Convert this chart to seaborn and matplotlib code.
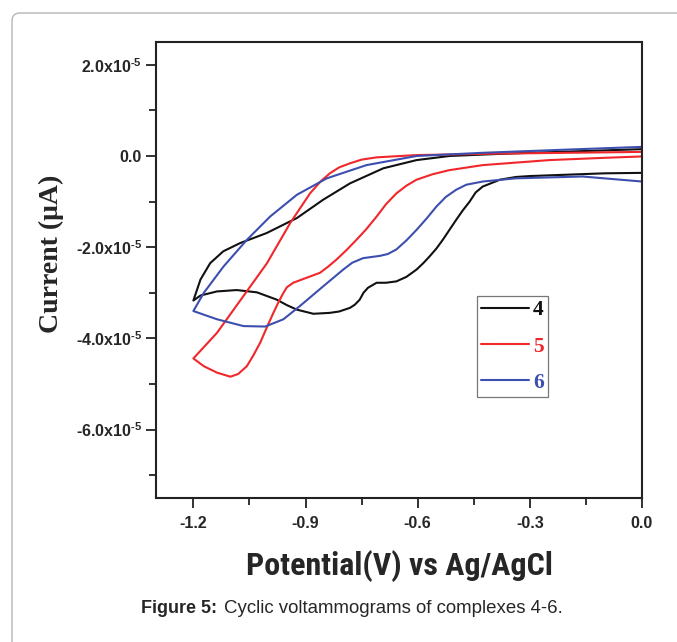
import matplotlib
matplotlib.use('Agg')
import matplotlib.pyplot as plt
import pandas as pd
import seaborn as sns
from matplotlib.lines import Line2D
from matplotlib.patches import FancyBboxPatch

# Cyclic voltammograms, current in units of 1e-5 A
# complex 4 (black)
e4_down = [0.0, -0.1, -0.2, -0.3, -0.337, -0.38, -0.426, -0.445, -0.461, -0.48, -0.497, -0.515,
           -0.533, -0.55, -0.568, -0.585, -0.603, -0.63, -0.657, -0.685, -0.71, -0.733, -0.745,
           -0.755, -0.768, -0.781, -0.81, -0.835, -0.879, -0.923, -0.95, -0.977, -1.03, -1.084,
           -1.137, -1.181, -1.2]
i4_down = [-0.37, -0.38, -0.41, -0.44, -0.46, -0.52, -0.67, -0.80, -1.0, -1.2, -1.40, -1.62,
           -1.84, -2.03, -2.2, -2.35, -2.49, -2.65, -2.75, -2.78, -2.78, -2.89, -3.0,
           -3.15, -3.26, -3.33, -3.41, -3.44, -3.46, -3.37, -3.27, -3.15, -2.99, -2.94,
           -2.97, -3.06, -3.17]
e4_up = [-1.2, -1.181, -1.155, -1.12, -1.075, -1.004, -0.977, -0.923, -0.853, -0.781, -0.692,
         -0.603, -0.515, -0.4, -0.3, -0.15, 0.0]
i4_up = [-3.17, -2.71, -2.35, -2.09, -1.91, -1.69, -1.58, -1.36, -0.96, -0.60, -0.27,
         -0.09, 0.0, 0.04, 0.07, 0.11, 0.15]

# complex 5 (red)
e5_down = [0.0, -0.1, -0.248, -0.426, -0.515, -0.56, -0.603, -0.63, -0.657, -0.685, -0.71, -0.737,
           -0.764, -0.79, -0.817, -0.84, -0.861, -0.897, -0.933, -0.95, -0.959, -0.972, -0.986,
           -1.003, -1.021, -1.04, -1.057, -1.08, -1.101, -1.137, -1.172, -1.2]
i5_down = [-0.01, -0.04, -0.09, -0.2, -0.31, -0.40, -0.52, -0.65, -0.82, -1.06, -1.33, -1.6,
           -1.84, -2.06, -2.27, -2.43, -2.56, -2.67, -2.78, -2.88, -3.0, -3.2, -3.44,
           -3.75, -4.09, -4.38, -4.61, -4.78, -4.84, -4.75, -4.61, -4.44]
e5_up = [-1.2, -1.137, -1.066, -1.003, -0.941, -0.888, -0.86, -0.835, -0.81, -0.781, -0.75,
         -0.71, -0.603, -0.4, -0.2, 0.0]
i5_up = [-4.44, -3.88, -3.07, -2.35, -1.47, -0.82, -0.56, -0.38, -0.25, -0.16, -0.08,
         -0.03, 0.02, 0.05, 0.07, 0.09]

# complex 6 (blue)
e6_down = [0.0, -0.159, -0.337, -0.426, -0.47, -0.497, -0.525, -0.55, -0.575, -0.603, -0.63,
           -0.657, -0.68, -0.701, -0.746, -0.775, -0.799, -0.853, -0.915, -0.959, -1.008,
           -1.066, -1.137, -1.2]
i6_down = [-0.56, -0.45, -0.49, -0.56, -0.63, -0.74, -0.9, -1.11, -1.36, -1.62, -1.85,
           -2.05, -2.15, -2.19, -2.24, -2.34, -2.49, -2.86, -3.29, -3.58, -3.74,
           -3.73, -3.58, -3.40]
e6_up = [-1.2, -1.172, -1.119, -1.057, -0.995, -0.923, -0.843, -0.737, -0.603, -0.426, -0.2, 0.0]
i6_up = [-3.40, -3.0, -2.42, -1.84, -1.33, -0.85, -0.49, -0.2, 0.0, 0.07, 0.14, 0.20]

labels = ['4', '5', '6']
colors = ['#111111', '#f0272b', '#3d4fae']

y_ticks = [2e-5, 0.0, -2e-5, -4e-5, -6e-5]
y_ticklabels = [r'2.0x10$^{\text{-}5}$', '0.0', r'-2.0x10$^{\text{-}5}$',
                r'-4.0x10$^{\text{-}5}$', r'-6.0x10$^{\text{-}5}$']
x_ticks = [-1.2, -0.9, -0.6, -0.3, 0.0]
x_ticklabels = ['-1.2', '-0.9', '-0.6', '-0.3', '0.0']

# build long table, one closed loop per complex
frames = []
for lab, ed, idn, eu, iu in [('4', e4_down, i4_down, e4_up, i4_up),
                             ('5', e5_down, i5_down, e5_up, i5_up),
                             ('6', e6_down, i6_down, e6_up, i6_up)]:
    E = ed + eu
    I = [v * 1e-5 for v in idn + iu]
    frames.append(pd.DataFrame({'E': E, 'I': I, 'complex': lab}))
df = pd.concat(frames, ignore_index=True)

sns.set_style('white')
plt.rcParams['font.family'] = ['Liberation Sans', 'DejaVu Sans']
plt.rcParams['mathtext.fontset'] = 'custom'
plt.rcParams['mathtext.rm'] = 'Liberation Sans:bold'
plt.rcParams['mathtext.it'] = 'Liberation Sans:bold'
plt.rcParams['mathtext.bf'] = 'Liberation Sans:bold'

fig = plt.figure(figsize=(6.77, 6.42), dpi=100)
ax = fig.add_axes([0.2304, 0.2243, 0.7179, 0.7103])

sns.lineplot(data=df, x='E', y='I', hue='complex', palette=colors, sort=False,
             estimator=None, linewidth=1.5, legend=False, ax=ax)

ax.set_xlim(-1.3, 0.0)
ax.set_ylim(-7.5e-5, 2.5e-5)

ax.set_xticks(x_ticks)
ax.set_xticklabels(x_ticklabels, fontweight='bold', fontsize=11.5)
ax.set_xticks([-1.05, -0.75, -0.45, -0.15], minor=True)
ax.set_yticks(y_ticks)
ax.set_yticklabels(y_ticklabels, fontweight='bold', fontsize=11.5)
ax.set_yticks([1e-5, -1e-5, -3e-5, -5e-5, -7e-5], minor=True)

ax.tick_params(axis='both', which='major', direction='out', length=7, width=1.3,
               left=True, bottom=True, top=False, right=False, color='#222222')
ax.tick_params(axis='both', which='minor', direction='out', length=5, width=1.3,
               left=True, bottom=True, top=False, right=False, color='#222222')
ax.tick_params(axis='x', pad=6)
ax.tick_params(axis='y', pad=3)

for sp in ax.spines.values():
    sp.set_linewidth(1.5)
    sp.set_color('#222222')

ax.set_xlabel('Potential(V) vs Ag/AgCl', fontweight='bold', fontsize=23,
              family=['DejaVu Sans Condensed', 'Liberation Sans Narrow', 'Roboto Condensed',
                      'DejaVu Sans'], fontstretch='condensed')
ax.xaxis.set_label_coords(0.5, -0.115)
ax.set_ylabel('Current (\u03bcA)', fontweight='bold', fontsize=20,
              family=['Liberation Serif', 'DejaVu Serif'])
ax.yaxis.set_label_coords(-0.19, 0.535)

handles = [Line2D([], [], color=c, linewidth=1.5) for c in colors]
leg = ax.legend(handles, labels, loc='upper left', bbox_to_anchor=(0.6605, 0.443),
                borderaxespad=0, frameon=True, fancybox=False, handlelength=2.2,
                handletextpad=0.2, borderpad=0.2, labelspacing=0.75,
                prop={'family': 'Liberation Serif', 'weight': 'bold', 'size': 15.5})
leg.get_frame().set_edgecolor('#555555')
leg.get_frame().set_linewidth(0.9)
for t, c in zip(leg.get_texts(), colors):
    t.set_color(c)

# caption
fig.text(141 / 677, 1 - 613 / 642, 'Figure 5:', fontweight='bold', fontsize=13,
         ha='left', va='baseline')
fig.text(224 / 677, 1 - 613 / 642, 'Cyclic voltammograms of complexes 4-6.', fontsize=13.4,
         ha='left', va='baseline')

# card outline around the figure
card = FancyBboxPatch((0.12, -0.5), 7.0, 6.79, boxstyle='round,pad=0,rounding_size=0.08',
                      transform=fig.dpi_scale_trans, facecolor='none', edgecolor='#b5b5b5',
                      linewidth=1.0, zorder=0)
fig.patches.append(card)

fig.savefig('out.png', dpi=100)
